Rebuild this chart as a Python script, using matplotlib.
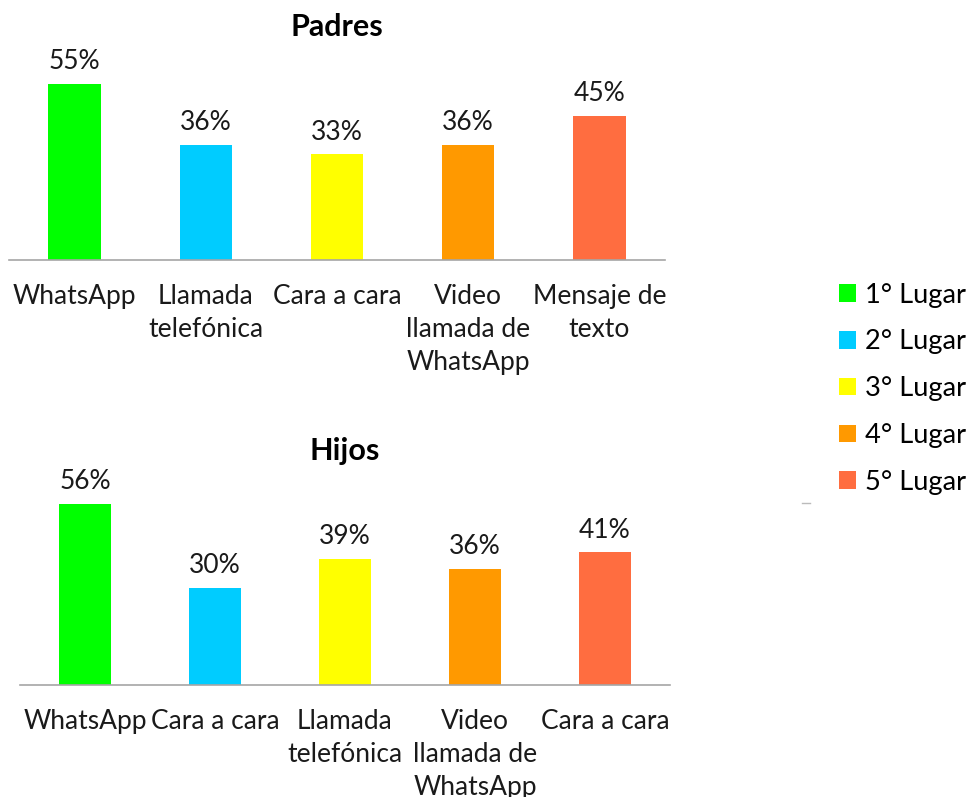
import matplotlib.pyplot as plt
from matplotlib.patches import Patch
from matplotlib.lines import Line2D

plt.rcParams['font.family'] = ['Lato', 'DejaVu Sans']

# data
padres_cats = ["WhatsApp", "Llamada\ntelefónica", "Cara a cara", "Video\nllamada de\nWhatsApp", "Mensaje de\ntexto"]
padres_vals = [55, 36, 33, 36, 45]
hijos_cats = ["WhatsApp", "Cara a cara", "Llamada\ntelefónica", "Video\nllamada de\nWhatsApp", "Cara a cara"]
hijos_vals = [56, 30, 39, 36, 41]
lugares = ["1° Lugar", "2° Lugar", "3° Lugar", "4° Lugar", "5° Lugar"]
colors = ["#00FF00", "#00CCFF", "#FFFF00", "#FF9900", "#FF6D40"]

fig = plt.figure(figsize=(9.71, 7.97), dpi=100)
fig.patch.set_facecolor('white')

ax1 = fig.add_axes([0.0093, 0.6738, 0.6756, 0.2409])
ax2 = fig.add_axes([0.0206, 0.1405, 0.6694, 0.2434])


def draw_panel(ax, cats, vals, title, tpad):
    x = range(len(cats))
    bars = ax.bar(x, vals, width=0.4, color=colors)
    ax.set_xlim(-0.5, len(cats) - 0.5)
    ax.set_ylim(0, 60)
    ax.set_yticks([])
    for s in ['top', 'right', 'left']:
        ax.spines[s].set_visible(False)
    ax.spines['bottom'].set_color('#A6A6A6')
    ax.spines['bottom'].set_linewidth(1.2)
    ax.set_xticks(list(x))
    ax.set_xticklabels(cats, fontsize=19, color='#1a1a1a', linespacing=1.42)
    ax.tick_params(axis='x', length=0, pad=17)
    for b, v in zip(bars, vals):
        ax.annotate(f"{v}%", (b.get_x() + b.get_width() / 2, v),
                    xytext=(0, 7), textcoords='offset points',
                    ha='center', va='bottom', fontsize=19, color='#1a1a1a')
    ax.set_title(title, fontsize=22, fontweight='bold', pad=tpad)


draw_panel(ax1, padres_cats, padres_vals, "Padres", 23)
draw_panel(ax2, hijos_cats, hijos_vals, "Hijos", 22)

handles = [Patch(facecolor=c, edgecolor='none') for c in colors]
fig.legend(handles, lugares, loc='upper left', bbox_to_anchor=(0.853, 0.659),
           frameon=False, fontsize=19.6, handlelength=0.62, handleheight=0.62,
           handletextpad=0.33, labelspacing=0.8, borderaxespad=0)

fig.add_artist(Line2D([0.826, 0.834], [0.369, 0.369], color='#BBBBBB', lw=1))

fig.savefig("out.png", dpi=100)
